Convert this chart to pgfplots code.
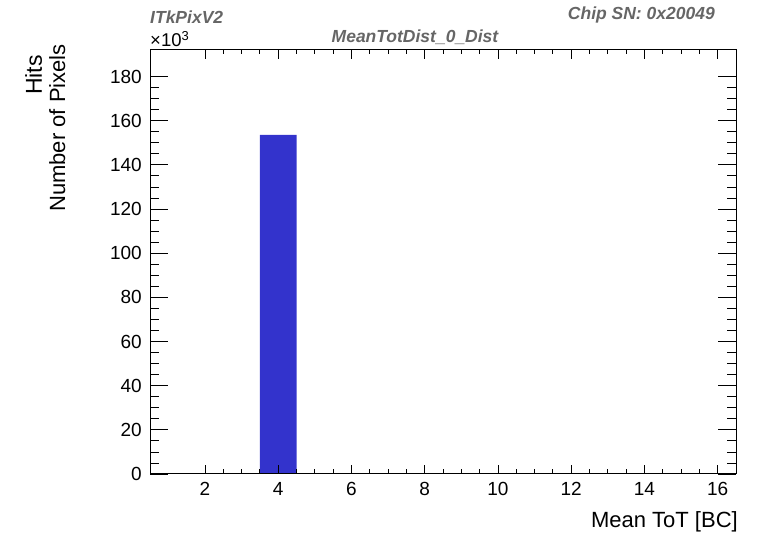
\documentclass[border=0pt]{standalone}
\usepackage{pgfplots}
\pgfplotsset{compat=1.18}
\usepackage{fontspec}
\setmainfont{Liberation Sans}
\definecolor{barblue}{RGB}{51,51,204}
\definecolor{titlegray}{RGB}{102,102,102}
\pgfplotstableread{
x y
0.5 0
1.5 0
2.5 0
3.5 153.6
4.5 0
5.5 0
6.5 0
7.5 0
8.5 0
9.5 0
10.5 0
11.5 0
12.5 0
13.5 0
14.5 0
15.5 0
16.5 0
}\histdata
\begin{document}
\begin{tikzpicture}[x=1pt,y=1pt]
\path[use as bounding box] (0,0) rectangle (763,535);
\pgfplotsset{
  rootaxis/.style={
    at={(150pt,61pt)}, anchor=south west,
    scale only axis, width=586pt, height=424pt,
    xmin=0.5, xmax=16.5, ymin=0, ymax=192,
    tick align=inside,
    axis line style={line width=1pt},
    every tick/.style={black, line width=0.8pt},
    /pgf/number format/assume math mode=true,
    tick label style={font=\fontsize{19}{22}\selectfont, inner sep=0pt},
  }
}
\begin{axis}[rootaxis,
  xtick=\empty,
  ytick={0,20,...,180},
  minor y tick num=3,
  major tick length=18pt, minor tick length=9pt,
  yticklabel style={xshift=-8pt},
]
\addplot[ybar interval, fill=barblue, draw=none] table[x=x,y=y] {\histdata};
\end{axis}
\begin{axis}[rootaxis,
  ytick=\empty,
  xtick={2,4,...,16},
  minor x tick num=3,
  major tick length=9pt, minor tick length=4.5pt,
  xticklabel style={yshift=-8pt},
]
\end{axis}
\node[anchor=west, inner sep=0pt, text=titlegray, font=\fontsize{17.5}{20}\selectfont\bfseries\itshape] at (150,518) {ITkPixV2};
\node[anchor=east, inner sep=0pt, text=titlegray, font=\fontsize{17.5}{20}\selectfont\bfseries\itshape] at (715,520) {Chip SN: 0x20049};
\node[anchor=base, inner sep=0pt, text=titlegray, font=\fontsize{17.5}{20}\selectfont\bfseries\itshape] at (415,492) {MeanTotDist\_0\_Dist};
\node[anchor=base west, inner sep=0pt, font=\fontsize{18.5}{21}\selectfont] at (150,488) {×10\textsuperscript{3}};
\node[anchor=base east, inner sep=0pt, rotate=90, font=\fontsize{23}{26}\selectfont] at (42,480) {Hits};
\node[anchor=base east, inner sep=0pt, rotate=90, font=\fontsize{22}{26}\selectfont] at (65,491) {Number of Pixels};
\node[anchor=base east, inner sep=0pt, font=\fontsize{22}{26}\selectfont] at (738,7) {Mean ToT [BC]};
\end{tikzpicture}
\end{document}
